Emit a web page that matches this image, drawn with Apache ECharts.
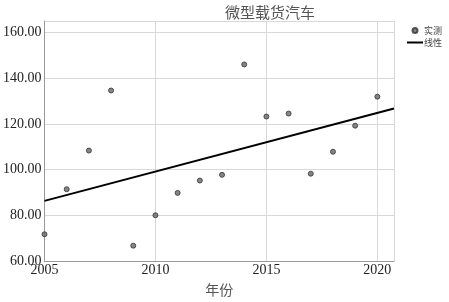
<!DOCTYPE html>
<html>
<head>
<meta charset="utf-8">
<script src="https://cdn.jsdelivr.net/npm/echarts@6/dist/echarts.min.js"></script>
<style>
  html, body { margin: 0; padding: 0; background: #fff; }
  #chart { width: 449px; height: 302px; }
</style>
</head>
<body>
<div id="chart"></div>
<script>
// 实测数据（年份、数值）
var years = [2005, 2006, 2007, 2008, 2009, 2010, 2011, 2012, 2013, 2014, 2015, 2016, 2017, 2018, 2019, 2020];
var observed = [71.7, 91.4, 108.3, 134.6, 66.7, 80.0, 89.8, 95.2, 97.7, 146.0, 123.2, 124.5, 98.2, 107.8, 119.2, 131.9];
// 线性拟合线端点
var fitX = [2005, 2020.75];
var fitY = [86.3, 126.7];

var serif = '"Liberation Serif", "Noto Sans CJK SC", serif';

var chart = echarts.init(document.getElementById('chart'));
var option = {
    backgroundColor: '#fff',
    animation: false,
    title: {
        text: '微型载货汽车',
        left: 265,
        textAlign: 'center',
        top: 0,
        textStyle: {
            fontFamily: '"Noto Sans CJK SC", serif',
            fontSize: 15,
            fontWeight: 'normal',
            color: '#555'
        }
    },
    legend: {
        orient: 'vertical',
        left: 402,
        top: 21,
        itemWidth: 16,
        itemHeight: 5,
        itemGap: 3,
        textStyle: {
            fontFamily: '"Noto Sans CJK SC", sans-serif',
            fontSize: 9,
            color: '#444',
            padding: [0, 0, 0, -4]
        },
        data: [
            { name: '实测', icon: 'circle' },
            { name: '线性', icon: 'path://M0,0H16V2H0Z' }
        ]
    },
    grid: {
        left: 43,
        right: 55,
        top: 21,
        bottom: 41
    },
    xAxis: {
        type: 'value',
        min: 2005,
        max: 2020.75,
        interval: 5,
        name: '年份',
        nameLocation: 'middle',
        nameGap: 22,
        nameTextStyle: {
            fontFamily: '"Noto Sans CJK SC", serif',
            fontSize: 14,
            color: '#555'
        },
        axisLine: { show: true, lineStyle: { color: '#999', width: 1 } },
        axisTick: { show: false },
        axisLabel: {
            fontFamily: serif,
            fontSize: 14,
            color: '#222',
            margin: 2,
            formatter: function (v) { return String(v); }
        },
        splitLine: { show: true, lineStyle: { color: '#d8d8d8', width: 1 } }
    },
    yAxis: {
        type: 'value',
        min: 60,
        max: 165,
        interval: 20,
        axisLine: { show: true, lineStyle: { color: '#999', width: 1 } },
        axisTick: { show: false },
        axisLabel: {
            fontFamily: serif,
            fontSize: 14,
            color: '#222',
            margin: 3,
            formatter: function (v) { return v.toFixed(2); }
        },
        splitLine: { show: true, lineStyle: { color: '#d8d8d8', width: 1 } }
    },
    series: [
        {
            name: '实测',
            type: 'scatter',
            symbolSize: 5,
            itemStyle: { color: '#666', borderColor: '#333', borderWidth: 1 },
            data: years.map(function (y, i) { return [y, observed[i]]; })
        },
        {
            name: '线性',
            type: 'line',
            symbol: 'none',
            lineStyle: { color: '#000', width: 2 },
            itemStyle: { color: '#000' },
            data: fitX.map(function (x, i) { return [x, fitY[i]]; })
        }
    ]
};
chart.setOption(option);
</script>
</body>
</html>
